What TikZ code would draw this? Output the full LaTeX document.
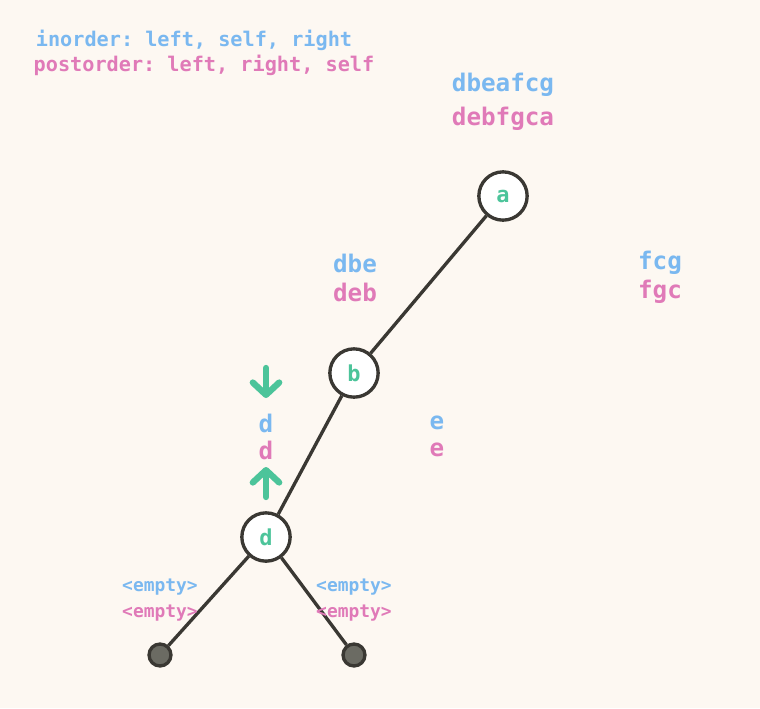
\documentclass[tikz,border=0pt]{standalone}
\usepackage{fontspec}
\setmonofont{DejaVu Sans Mono}
\usetikzlibrary{arrows, arrows.meta}
\definecolor{paper}{HTML}{FDF8F2}
\definecolor{inblue}{HTML}{7AB8F0}
\definecolor{postpink}{HTML}{E07AB8}
\definecolor{mint}{HTML}{4CC49A}
\definecolor{ink}{HTML}{3A3833}
\definecolor{leafgray}{HTML}{6B6B63}

\begin{document}
\begin{tikzpicture}[x=0.02cm, y=-0.02cm,
  treenode/.style={circle, draw=ink, line width=1.9pt, fill=white, minimum size=27.5pt, inner sep=0pt,
    text=mint, font=\ttfamily\bfseries\fontsize{12.5}{14}\selectfont},
  leaf/.style={circle, draw=ink, line width=1.9pt, fill=leafgray, minimum size=12.5pt, inner sep=0pt},
  edge/.style={draw=ink, line width=1.9pt},
  inlbl/.style={text=inblue, font=\ttfamily\bfseries\fontsize{13.8}{15}\selectfont},
  postlbl/.style={text=postpink, font=\ttfamily\bfseries\fontsize{13.8}{15}\selectfont},
  emptylbl/.style={font=\ttfamily\bfseries\fontsize{10.2}{12}\selectfont},
  walk/.style={draw=mint, line width=3.6pt, line cap=round,
    -{Straight Barb[length=7pt, width=15pt, line cap=round, line join=round]}}]
  \useasboundingbox[fill=paper] (0,0) rectangle (760,708);

  % Legend
  \node[text=inblue, font=\ttfamily\bfseries\fontsize{11.5}{13}\selectfont] (inlegend) at (194,40) {inorder: left, self, right};
  \node[text=postpink, font=\ttfamily\bfseries\fontsize{11.5}{13}\selectfont] (postlegend) at (204,65) {postorder: left, right, self};

  % Tree nodes
  \node[treenode] (a) at (503,196) {a};
  \node[treenode] (b) at (354,373) {b};
  \node[treenode] (d) at (266,537) {d};
  \node[leaf] (l1) at (160,655) {};
  \node[leaf] (l2) at (354,655) {};

  % Edges
  \draw[edge] (a) -- (b);
  \draw[edge] (b) -- (d);
  \draw[edge] (d) -- (l1);
  \draw[edge] (d) -- (l2);

  % Traversal labels
  \node[inlbl] (ain) at (503,85) {dbeafcg};
  \node[postlbl] (apost) at (503,119) {debfgca};
  \node[inlbl] (bin) at (355,263) {dbe};
  \node[postlbl] (bpost) at (355,292) {deb};
  \node[inlbl] (cin) at (660,263) {fcg};
  \node[postlbl] (cpost) at (660,292) {fgc};
  \node[inlbl] (din) at (266,423) {d};
  \node[postlbl] (dpost) at (266,450) {d};
  \node[inlbl] (ein) at (437,423) {e};
  \node[postlbl] (epost) at (437,450) {e};
  \node[emptylbl, text=inblue] (l1in) at (160,587) {<empty>};
  \node[emptylbl, text=postpink] (l1post) at (160,613) {<empty>};
  \node[emptylbl, text=inblue] (l2in) at (354,587) {<empty>};
  \node[emptylbl, text=postpink] (l2post) at (354,613) {<empty>};

  % Walk arrows
  \coordinate (downtop) at (266,368);
  \coordinate (downbot) at (266,398);
  \coordinate (uptop) at (266,467);
  \coordinate (upbot) at (266,497);
  \draw[walk] (downtop) -- (downbot);
  \draw[walk] (upbot) -- (uptop);
\end{tikzpicture}
\end{document}
